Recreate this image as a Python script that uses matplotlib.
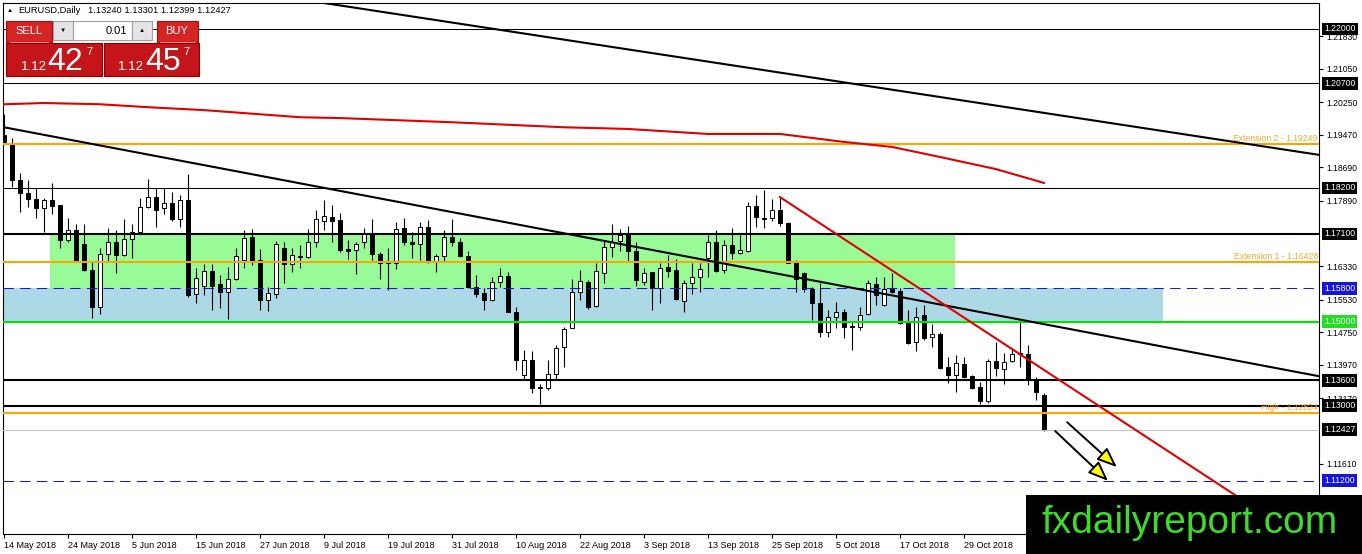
import matplotlib
matplotlib.use("Agg")
import matplotlib.pyplot as plt
import matplotlib.transforms as mtransforms
from matplotlib.patches import Rectangle

plt.rcParams['font.family'] = ['Liberation Sans', 'DejaVu Sans']

# === DATI (EURUSD Daily) ===
opens = [1.1946, 1.1925, 1.1839, 1.1808, 1.1793, 1.1772, 1.1791, 1.1779, 1.1695, 1.1719,
         1.1686, 1.1624, 1.1535, 1.1662, 1.1691, 1.1660, 1.1698, 1.1715, 1.1774, 1.1798,
         1.1772, 1.1784, 1.1746, 1.1791, 1.1566, 1.1585, 1.1621, 1.1590, 1.1571, 1.1602,
         1.1648, 1.1703, 1.1648, 1.1552, 1.1566, 1.1676, 1.1638, 1.1657, 1.1655, 1.1691,
         1.1741, 1.1751, 1.1743, 1.1674, 1.1672, 1.1691, 1.1712, 1.1662, 1.1643, 1.1641,
         1.1724, 1.1691, 1.1686, 1.1727, 1.1645, 1.1657, 1.1703, 1.1691, 1.1657, 1.1583,
         1.1569, 1.1552, 1.1595, 1.1610, 1.1524, 1.1373, 1.1409, 1.1344, 1.1342, 1.1375,
         1.1440, 1.1485, 1.1571, 1.1595, 1.1538, 1.1617, 1.1679, 1.1693, 1.1707, 1.1669,
         1.1595, 1.1619, 1.1581, 1.1631, 1.1624, 1.1550, 1.1593, 1.1607, 1.1652, 1.1691,
         1.1624, 1.1684, 1.1665, 1.1669, 1.1777, 1.1748, 1.1748, 1.1767, 1.1736, 1.1641,
         1.1617, 1.1578, 1.1545, 1.1476, 1.1512, 1.1524, 1.1490, 1.1488, 1.1519, 1.1590,
         1.1540, 1.1578, 1.1574, 1.1500, 1.1452, 1.1516, 1.1464, 1.1471, 1.1392, 1.1373,
         1.1399, 1.1370, 1.1344, 1.1311, 1.1406, 1.1387, 1.1406, 1.1425, 1.1423, 1.1363,
         1.1324]
highs = [1.1997, 1.1939, 1.1856, 1.1839, 1.1820, 1.1796, 1.1832, 1.1780, 1.1748, 1.1734,
         1.1734, 1.1643, 1.1676, 1.1724, 1.1719, 1.1746, 1.1734, 1.1796, 1.1841, 1.1820,
         1.1820, 1.1810, 1.1803, 1.1853, 1.1629, 1.1638, 1.1638, 1.1612, 1.1631, 1.1676,
         1.1719, 1.1722, 1.1674, 1.1583, 1.1693, 1.1691, 1.1676, 1.1683, 1.1722, 1.1767,
         1.1791, 1.1779, 1.1760, 1.1695, 1.1691, 1.1724, 1.1746, 1.1667, 1.1676, 1.1739,
         1.1748, 1.1715, 1.1739, 1.1743, 1.1662, 1.1719, 1.1746, 1.1700, 1.1669, 1.1612,
         1.1581, 1.1607, 1.1629, 1.1619, 1.1535, 1.1433, 1.1430, 1.1351, 1.1409, 1.1444,
         1.1488, 1.1602, 1.1624, 1.1600, 1.1641, 1.1693, 1.1734, 1.1722, 1.1729, 1.1691,
         1.1629, 1.1620, 1.1641, 1.1660, 1.1650, 1.1600, 1.1641, 1.1641, 1.1707, 1.1719,
         1.1695, 1.1724, 1.1707, 1.1786, 1.1803, 1.1815, 1.1794, 1.1796, 1.1739, 1.1648,
         1.1619, 1.1583, 1.1593, 1.1528, 1.1547, 1.1531, 1.1500, 1.1535, 1.1600, 1.1607,
         1.1607, 1.1617, 1.1581, 1.1528, 1.1535, 1.1540, 1.1495, 1.1476, 1.1416, 1.1421,
         1.1416, 1.1373, 1.1356, 1.1411, 1.1452, 1.1425, 1.1437, 1.1500, 1.1445, 1.1368,
         1.1330]
lows = [1.1927, 1.1822, 1.1762, 1.1774, 1.1748, 1.1715, 1.1758, 1.1676, 1.1691, 1.1643,
        1.1622, 1.1509, 1.1519, 1.1645, 1.1617, 1.1657, 1.1652, 1.1714, 1.1772, 1.1727,
        1.1758, 1.1741, 1.1727, 1.1559, 1.1545, 1.1564, 1.1528, 1.1533, 1.1507, 1.1600,
        1.1629, 1.1636, 1.1528, 1.1526, 1.1557, 1.1593, 1.1619, 1.1629, 1.1652, 1.1679,
        1.1719, 1.1691, 1.1667, 1.1650, 1.1615, 1.1676, 1.1648, 1.1602, 1.1576, 1.1626,
        1.1683, 1.1652, 1.1648, 1.1641, 1.1619, 1.1645, 1.1681, 1.1655, 1.1581, 1.1559,
        1.1528, 1.1550, 1.1583, 1.1523, 1.1385, 1.1363, 1.1330, 1.1303, 1.1337, 1.1363,
        1.1392, 1.1485, 1.1552, 1.1530, 1.1535, 1.1593, 1.1655, 1.1669, 1.1645, 1.1586,
        1.1588, 1.1528, 1.1545, 1.1607, 1.1552, 1.1524, 1.1566, 1.1571, 1.1607, 1.1619,
        1.1617, 1.1650, 1.1662, 1.1667, 1.1727, 1.1724, 1.1741, 1.1729, 1.1640, 1.1571,
        1.1571, 1.1504, 1.1464, 1.1464, 1.1485, 1.1461, 1.1433, 1.1481, 1.1516, 1.1540,
        1.1538, 1.1570, 1.1496, 1.1448, 1.1430, 1.1456, 1.1440, 1.1387, 1.1354, 1.1332,
        1.1366, 1.1339, 1.1303, 1.1306, 1.1370, 1.1351, 1.1404, 1.1392, 1.1349, 1.1313,
        1.12399]
closes = [1.1930, 1.1839, 1.1808, 1.1793, 1.1772, 1.1791, 1.1777, 1.1695, 1.1719, 1.1645,
          1.1624, 1.1535, 1.1662, 1.1691, 1.1660, 1.1698, 1.1715, 1.1774, 1.1798, 1.1767,
          1.1784, 1.1746, 1.1791, 1.1564, 1.1605, 1.1621, 1.1585, 1.1571, 1.1602, 1.1657,
          1.1700, 1.1643, 1.1552, 1.1569, 1.1686, 1.1638, 1.1660, 1.1655, 1.1691, 1.1746,
          1.1753, 1.1741, 1.1672, 1.1669, 1.1686, 1.1712, 1.1662, 1.1641, 1.1641, 1.1722,
          1.1691, 1.1686, 1.1727, 1.1643, 1.1657, 1.1703, 1.1691, 1.1657, 1.1583, 1.1566,
          1.1552, 1.1595, 1.1610, 1.1524, 1.1409, 1.1409, 1.1342, 1.1342, 1.1375, 1.1437,
          1.1483, 1.1571, 1.1597, 1.1535, 1.1621, 1.1679, 1.1691, 1.1707, 1.1669, 1.1600,
          1.1617, 1.1581, 1.1629, 1.1621, 1.1554, 1.1593, 1.1607, 1.1626, 1.1691, 1.1622,
          1.1684, 1.1665, 1.1672, 1.1777, 1.1751, 1.1746, 1.1767, 1.1736, 1.1641, 1.1602,
          1.1578, 1.1545, 1.1476, 1.1512, 1.1524, 1.1488, 1.1488, 1.1516, 1.1593, 1.1564,
          1.1578, 1.1571, 1.1497, 1.1449, 1.1512, 1.1461, 1.1471, 1.1390, 1.1373, 1.1402,
          1.1368, 1.1342, 1.1311, 1.1406, 1.1390, 1.1404, 1.1423, 1.1423, 1.1363, 1.1332,
          1.12427]

date_labels = ['14 May 2018', '24 May 2018', '5 Jun 2018', '15 Jun 2018', '27 Jun 2018',
               '9 Jul 2018', '19 Jul 2018', '31 Jul 2018', '10 Aug 2018', '22 Aug 2018',
               '3 Sep 2018', '13 Sep 2018', '25 Sep 2018', '5 Oct 2018', '17 Oct 2018',
               '29 Oct 2018']
date_step = 8

price_ticks = [1.2183, 1.2105, 1.2025, 1.1947, 1.1869, 1.1789, 1.1633, 1.1553,
               1.1475, 1.1397, 1.1317, 1.1161, 1.1081]

# media mobile (200)
ma_bars = [0, 5, 12, 18, 25, 37, 42, 56, 70, 78, 88, 97, 105, 111, 117, 124, 130]
ma_vals = [1.2020, 1.2023, 1.2020, 1.2013, 1.2006, 1.1989, 1.1987, 1.1977, 1.1965,
           1.1961, 1.1949, 1.1949, 1.1930, 1.1918, 1.1894, 1.1865, 1.1832]

# livelli orizzontali
thin_levels = [1.22000, 1.20700, 1.18200]
thick_levels = [1.17100, 1.13600, 1.13000]
fibo_levels = [1.19249, 1.16428, 1.12824]
fibo_names = ['Extension 2 - 1.19249', 'Extension 1 - 1.16428', 'High - 1.12824']
dashed_levels = [1.15800, 1.11200]
green_level = 1.15000
bid_level = 1.12427

# zone (rettangoli)
green_zone = (5.8, 118.9, 1.15800, 1.17100)
blue_zone = (-1.0, 144.9, 1.15000, 1.15800)

# trendline (due punti ciascuna)
trend_top = ((40.0, 1.2262), (164.4, 1.1899))
trend_long = ((0.0, 1.1965), (164.4, 1.1370))
trend_red = ((97.0, 1.1798), (130.0, 1.1385))

# frecce
arrow_a = ((132.9, 1.1260), (139.1, 1.1153))
arrow_b = ((131.4, 1.1239), (138.0, 1.1120))

# === GRAFICO ===
W, H = 1362, 554
fig = plt.figure(figsize=(W / 100, H / 100), dpi=100, facecolor='white')
ax = fig.add_axes([3 / W, 20 / H, 1316 / W, 531 / H])
ax.set_xlim(-0.125, 164.375)
ax.set_ylim(1.0993, 1.2262)
ax.set_facecolor('white')
for s in ax.spines.values():
    s.set_color('black')
    s.set_linewidth(0.8)

# zone
gx0, gx1, gy0, gy1 = green_zone
ax.add_patch(Rectangle((gx0, gy0), gx1 - gx0, gy1 - gy0, fc='#98fb98', ec='none', zorder=0.5))
bx0, bx1, by0, by1 = blue_zone
ax.add_patch(Rectangle((bx0, by0), bx1 - bx0, by1 - by0, fc='#add8e6', ec='none', zorder=0.5))

# candele
n = len(closes)
xs = list(range(n))
ax.vlines(xs, lows, highs, color='black', lw=0.8, zorder=2)
for i in range(n):
    o, c = opens[i], closes[i]
    bottom = min(o, c)
    height = max(abs(c - o), 0.00012)
    fc = 'white' if c > o else 'black'
    ax.bar(i, height, bottom=bottom, width=0.62, color=fc, edgecolor='black',
           linewidth=0.7, zorder=3)

# livelli
for lv in thin_levels:
    ax.axhline(lv, color='black', lw=0.75, zorder=4)
for lv in thick_levels:
    ax.axhline(lv, color='black', lw=1.5, zorder=4)
for lv in fibo_levels:
    ax.axhline(lv, color='#ffa500', lw=1.5, zorder=4)
for lv in dashed_levels:
    ax.axhline(lv, color='#1c1cb4', lw=0.75, dashes=(10, 6), zorder=4)
ax.axhline(green_level, color='#00e600', lw=1.5, zorder=4)
ax.axhline(bid_level, color='#c0c0c0', lw=0.75, zorder=4)

# trendline
ax.axline(trend_top[0], trend_top[1], color='black', lw=1.5, zorder=5)
ax.axline(trend_long[0], trend_long[1], color='black', lw=1.5, zorder=5)
(rx0, ry0), (rx1, ry1) = trend_red
slope = (ry1 - ry0) / (rx1 - rx0)
ax.plot([rx0, 170], [ry0, ry0 + slope * (170 - rx0)], color='#e00000', lw=1.5, zorder=5)

# media mobile
ax.plot(ma_bars, ma_vals, color='#e00000', lw=1.5, zorder=5)

# frecce
for (x0, y0), (x1, y1) in (arrow_a, arrow_b):
    ax.annotate('', xy=(x1, y1), xytext=(x0, y0),
                arrowprops=dict(arrowstyle='-|>,head_length=0.55,head_width=0.22',
                                fc='#ffff00', ec='black', lw=1.4,
                                mutation_scale=22, shrinkA=0, shrinkB=0),
                zorder=6)

# asse prezzi (destra)
ax.yaxis.tick_right()
ax.set_yticks(price_ticks)
ax.set_yticklabels([f'{p:.5f}' for p in price_ticks])
ax.tick_params(axis='y', direction='out', length=3, width=0.8, pad=2,
               labelsize=6.2, colors='black')

# asse date
ax.set_xticks(list(range(0, date_step * len(date_labels), date_step)))
ax.set_xticklabels(date_labels, ha='left')
ax.tick_params(axis='x', direction='out', length=3, width=0.8, pad=2, labelsize=6.5)

trans = mtransforms.blended_transform_factory(ax.transAxes, ax.transData)

def price_box(price, fc):
    ax.text(1.0040, price, f'{price:.5f}', transform=trans, fontsize=6.2, color='white',
            ha='left', va='center', clip_on=False, zorder=7,
            bbox=dict(boxstyle='square,pad=0.22', fc=fc, ec='none'))

for lv in thin_levels + thick_levels:
    price_box(lv, 'black')
for lv in dashed_levels:
    price_box(lv, '#1515e0')
price_box(green_level, '#22dd22')
price_box(bid_level, 'black')

for lv, name in zip(fibo_levels, fibo_names):
    ax.text(0.999, lv + 0.0003, name, transform=trans, fontsize=6.2, color='#f0a830',
            ha='right', va='bottom', zorder=6)

# === OVERLAY: pannello trading, titolo, watermark ===
ov = fig.add_axes([0, 0, 1, 1], zorder=10)
ov.set_xlim(0, W)
ov.set_ylim(H, 0)
ov.axis('off')
ov.patch.set_alpha(0)

def box(x0, y0, x1, y1, fc, ec='none', lw=0.8):
    ov.add_patch(Rectangle((x0, y0), x1 - x0, y1 - y0, fc=fc, ec=ec, lw=lw))

ov.text(7, 10.5, '▲', fontsize=4.5, va='center', ha='left', color='black')
ov.text(18, 10.5, 'EURUSD,Daily', fontsize=6.7, va='center', ha='left', color='black')
ov.text(88, 10.5, '1.13240 1.13301 1.12399 1.12427', fontsize=6.7, va='center',
        ha='left', color='black')

red_btn = '#d42424'
red_box = '#c4161a'
box(6, 21, 52, 42, red_btn, '#a01010')
ov.text(29, 31.5, 'SELL', fontsize=8, color='white', ha='center', va='center')
box(53, 21, 73, 40, '#e4e4e4', '#a0a0a0')
ov.text(63, 30.5, '▼', fontsize=4.5, color='black', ha='center', va='center')
box(73, 21, 132, 40, 'white', '#a0a0a0')
ov.text(127, 30.5, '0.01', fontsize=8, color='black', ha='right', va='center')
box(132, 21, 152, 40, '#e4e4e4', '#a0a0a0')
ov.text(142, 30.5, '▲', fontsize=4.5, color='black', ha='center', va='center')
box(157, 21, 198, 42, red_btn, '#a01010')
ov.text(177, 31.5, 'BUY', fontsize=8, color='white', ha='center', va='center')
ov.plot([10, 48], [41.5, 41.5], color='#f0a0a0', lw=0.6)
ov.plot([160, 195], [41.5, 41.5], color='#f0a0a0', lw=0.6)

box(6, 43, 102, 76, red_box, '#8c0000')
box(104, 43, 199, 76, red_box, '#8c0000')
ov.text(21, 70, '1.12', fontsize=9.5, color='white', ha='left', va='baseline')
ov.text(47, 70, '42', fontsize=23, color='white', ha='left', va='baseline')
ov.text(86, 55, '7', fontsize=8, color='white', ha='left', va='baseline')
ov.text(118, 70, '1.12', fontsize=9.5, color='white', ha='left', va='baseline')
ov.text(145, 70, '45', fontsize=23, color='white', ha='left', va='baseline')
ov.text(183, 55, '7', fontsize=8, color='white', ha='left', va='baseline')

box(1026, 495, W, H, 'black')
ov.text(1042, 533, 'fxdailyreport.com', fontsize=28, color='#3cdc28',
        ha='left', va='baseline')

fig.savefig('out.png', dpi=100, facecolor='white')
